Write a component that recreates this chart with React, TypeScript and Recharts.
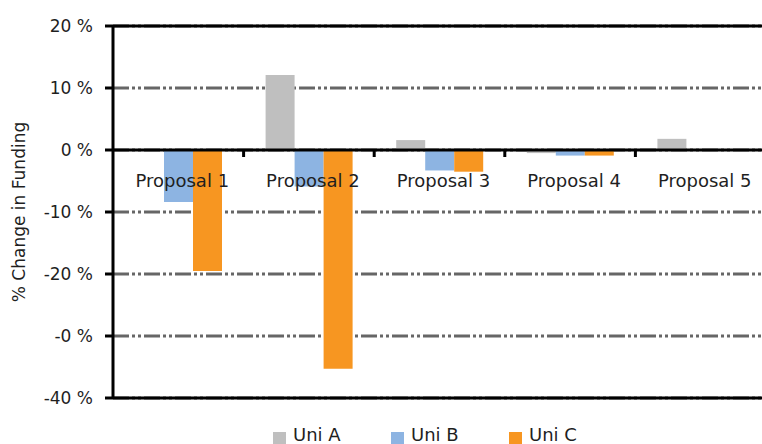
import { Bar, BarChart, CartesianGrid, Label, Legend, ReferenceLine, XAxis, YAxis } from 'recharts'

const categories = ['Proposal 1', 'Proposal 2', 'Proposal 3', 'Proposal 4', 'Proposal 5']
const uniA = [0, 12.1, 1.6, -0.5, 1.8]
const uniB = [-8.4, -5.9, -3.3, -0.9, 0]
const uniC = [-19.5, -35.3, -3.5, -0.9, 0]

const yTicks = [20, 10, 0, -10, -20, -30, -40]
const yTickLabels = ['20 %', '10 %', '0 %', '-10 %', '-20 %', '-0 %', '-40 %']

const series = [
  { key: 'uniA', name: 'Uni A', color: '#BFBFBF' },
  { key: 'uniB', name: 'Uni B', color: '#8DB4E2' },
  { key: 'uniC', name: 'Uni C', color: '#F79621' },
]

const data = categories.map((name, i) => ({ name, uniA: uniA[i], uniB: uniB[i], uniC: uniC[i] }))

const FONT = '"DejaVu Sans", sans-serif'
const TEXT = '#1f1f1f'

const W = 770
const H = 450
const MARGIN = { top: 26, right: 4, bottom: 5, left: 0 }
const LEGEND_H = 20
const XAXIS_H = 27
const Y_MIN = -40
const Y_MAX = 20
const PLOT_TOP = MARGIN.top
const PLOT_BOTTOM = H - MARGIN.bottom - LEGEND_H - XAXIS_H
// where 0 % sits, so the category labels hang off the zero line like in Excel
const ZERO_Y = PLOT_TOP + ((PLOT_BOTTOM - PLOT_TOP) * Y_MAX) / (Y_MAX - Y_MIN)

function CategoryTick(props: any) {
  const { x, payload } = props
  const half = payload?.offset ?? 65
  return (
    <g>
      <line x1={x + half} x2={x + half} y1={ZERO_Y} y2={ZERO_Y + 7} stroke="#000" strokeWidth={3} />
      <text x={x + 4} y={ZERO_Y + 37} textAnchor="middle" fontSize={18} fontFamily={FONT} fill={TEXT}>
        {payload.value}
      </text>
    </g>
  )
}

function AxisTitle(props: any) {
  const { viewBox } = props
  const cx = viewBox.x + 19
  const cy = viewBox.y + viewBox.height / 2
  return (
    <text
      x={cx}
      y={cy}
      transform={`rotate(-90 ${cx} ${cy})`}
      textAnchor="middle"
      dominantBaseline="central"
      fontSize={17}
      fontFamily={FONT}
      fill={TEXT}
    >
      % Change in Funding
    </text>
  )
}

function LegendBox() {
  return (
    <div style={{ display: 'flex', height: LEGEND_H, alignItems: 'center', paddingLeft: 273, fontFamily: FONT }}>
      {series.map((s) => (
        <div key={s.key} style={{ display: 'flex', alignItems: 'center', width: 118 }}>
          <span
            style={{ width: 13, height: 13, background: s.color, marginRight: 7, marginTop: 6, display: 'inline-block' }}
          />
          <span style={{ fontSize: 18, lineHeight: '18px', color: TEXT }}>{s.name}</span>
        </div>
      ))}
    </div>
  )
}

export default function App() {
  return (
    <div style={{ position: 'absolute', left: 0, top: 0, width: 762, height: 444, overflow: 'hidden', background: '#fff' }}>
      <BarChart width={W} height={H} data={data} margin={MARGIN} barCategoryGap={22} barGap={0}>
        <CartesianGrid
          vertical={false}
          stroke="#666"
          strokeWidth={3}
          strokeDasharray="16 3 3 3 3 3"
        />
        {series.map((s) => (
          <Bar key={s.key} dataKey={s.key} name={s.name} fill={s.color} isAnimationActive={false} />
        ))}
        <ReferenceLine y={0} stroke="#000" strokeWidth={3} />
        <ReferenceLine y={Y_MAX} stroke="#000" strokeWidth={3} />
        <ReferenceLine y={Y_MIN} stroke="#000" strokeWidth={3} />
        <XAxis
          dataKey="name"
          height={XAXIS_H}
          axisLine={false}
          tickLine={false}
          tickSize={0}
          tick={<CategoryTick />}
          interval={0}
        />
        <YAxis
          width={113}
          domain={[Y_MIN, Y_MAX]}
          ticks={yTicks}
          interval={0}
          tickFormatter={(v: number) => yTickLabels[yTicks.indexOf(v)]}
          axisLine={{ stroke: '#000', strokeWidth: 3 }}
          tickLine={{ stroke: '#000', strokeWidth: 3 }}
          tickSize={8}
          tickMargin={12}
          tick={{ fill: TEXT, fontSize: 17, fontFamily: FONT }}
        >
          <Label content={<AxisTitle />} />
        </YAxis>
        <Legend verticalAlign="bottom" height={LEGEND_H} wrapperStyle={{ left: 0, width: W }} content={<LegendBox />} />
      </BarChart>
    </div>
  )
}
